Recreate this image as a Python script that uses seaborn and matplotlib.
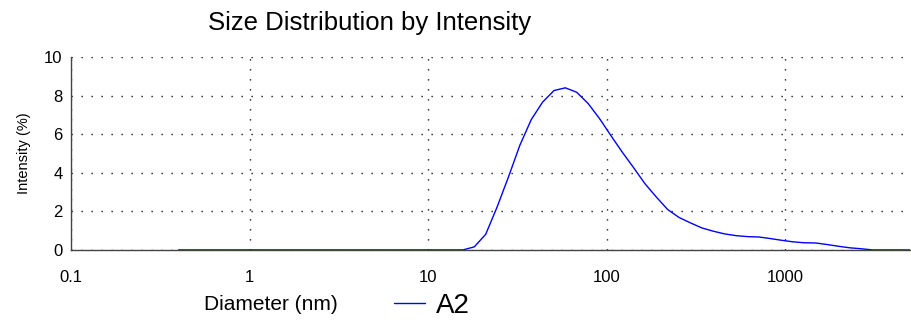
import matplotlib
matplotlib.use("Agg")
import matplotlib.pyplot as plt
import matplotlib.ticker as mticker
import pandas as pd
import seaborn as sns

# size classes (nm) and intensity (%)
size_nm = [0.4, 0.4632, 0.5365, 0.6213, 0.7195, 0.8332, 0.9649, 1.117, 1.294, 1.499,
           1.736, 2.010, 2.328, 2.696, 3.122, 3.615, 4.187, 4.849, 5.615, 6.503,
           7.531, 8.721, 10.10, 11.70, 13.54, 15.69, 18.17, 21.04, 24.36, 28.21,
           32.67, 37.84, 43.82, 50.75, 58.77, 68.06, 78.82, 91.28, 105.7, 122.4,
           141.8, 164.2, 190.1, 220.2, 255.0, 295.3, 342.0, 396.1, 458.7, 531.2,
           615.1, 712.4, 825.0, 955.4, 1106, 1281, 1484, 1718, 1990, 2305,
           2669, 3091, 3580, 4145, 4801, 5560, 6439, 7456, 8635, 10000]
intensity = [0, 0, 0, 0, 0, 0, 0, 0, 0, 0,
             0, 0, 0, 0, 0, 0, 0, 0, 0, 0,
             0, 0, 0, 0, 0, 0, 0.16, 0.81, 2.22, 3.78,
             5.42, 6.75, 7.66, 8.26, 8.40, 8.17, 7.59, 6.81, 5.93, 5.07,
             4.26, 3.43, 2.74, 2.09, 1.68, 1.40, 1.14, 0.97, 0.83, 0.74,
             0.69, 0.67, 0.59, 0.50, 0.42, 0.37, 0.36, 0.28, 0.19, 0.11,
             0.06, 0, 0, 0, 0, 0, 0, 0, 0, 0]
sample_name = "A2"
x_ticks = [0.1, 1, 10, 100, 1000]
x_tick_labels = ["0.1", "1", "10", "100", "1000"]
y_ticks = [0, 2, 4, 6, 8, 10]

df = pd.DataFrame({"Diameter (nm)": size_nm, "Intensity (%)": intensity})

sns.set_style("white")
plt.rcParams["font.family"] = ["Liberation Sans", "DejaVu Sans"]
plt.rcParams["text.color"] = "black"
plt.rcParams["axes.labelcolor"] = "black"

fig = plt.figure(figsize=(9.11, 3.2), dpi=100)
ax = fig.add_axes([0.078, 0.219, 0.9207, 0.603])

sns.lineplot(data=df, x="Diameter (nm)", y="Intensity (%)", color="#0000ff",
             linewidth=1.0, label=sample_name, ax=ax, sort=False)

ax.set_xscale("log")
ax.set_xlim(0.1, 5000)
ax.set_ylim(0, 10)

ax.set_xticks(x_ticks)
ax.set_xticklabels(x_tick_labels)
ax.xaxis.set_minor_locator(mticker.LogLocator(base=10, subs=range(2, 10), numticks=20))
ax.xaxis.set_minor_formatter(mticker.NullFormatter())
ax.set_yticks(y_ticks)
ax.yaxis.set_minor_locator(mticker.MultipleLocator(1))

ax.grid(True, which="major", color="black", linestyle=(0, (0.9, 6.3)), linewidth=1.0)
for side in ["top", "right"]:
    ax.spines[side].set_visible(False)
for side in ["left", "bottom"]:
    ax.spines[side].set_color("#444444")
    ax.spines[side].set_linewidth(1.0)

ax.tick_params(axis="x", which="major", direction="inout", length=7, width=1,
               color="#444444", labelsize=12, pad=11, labelcolor="black")
ax.tick_params(axis="x", which="minor", direction="inout", length=4, width=1,
               color="#444444")
ax.tick_params(axis="y", which="major", direction="out", length=4, width=1,
               color="#444444", labelsize=12, pad=2, labelcolor="black")
ax.tick_params(axis="y", which="minor", direction="in", length=4, width=1,
               color="#444444")

ax.set_ylabel("Intensity (%)", fontsize=10.5, color="black")
ax.yaxis.set_label_coords(-0.048, 0.5)
ax.set_xlabel("Diameter (nm)", fontsize=15, color="black")
ax.xaxis.set_label_coords((271 - 71) / 838.8, -0.235)

fig.text(370 / 911, 1 - 23 / 320, "Size Distribution by Intensity",
         ha="center", va="center", fontsize=18.5, color="black")

leg = ax.legend(loc="center left", bbox_to_anchor=(394 / 911, 1 - 306 / 320),
                bbox_transform=fig.transFigure, frameon=False, fontsize=20,
                handlelength=1.1, handletextpad=0.4, borderpad=0, borderaxespad=0)
for t in leg.get_texts():
    t.set_color("black")

fig.savefig("out.png", dpi=100)
